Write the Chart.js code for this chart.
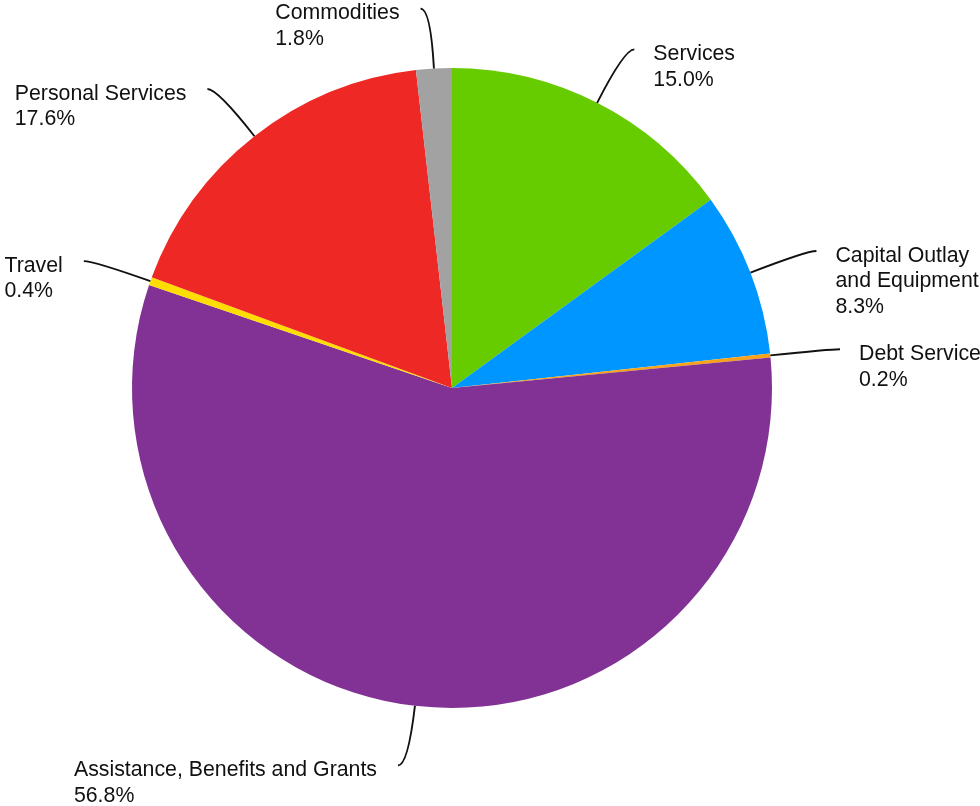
<!DOCTYPE html>
<html>
<head>
<meta charset="utf-8">
<script src="https://cdn.jsdelivr.net/npm/chart.js@4"></script>
<style>
  html, body { margin: 0; padding: 0; background: #fff; }
  canvas { display: block; }
</style>
</head>
<body>
<canvas id="budgetPie" width="980" height="806"></canvas>
<script>
// Spending categories, clockwise from 12 o'clock
const categories = [
    ['Services'],
    ['Capital Outlay', 'and Equipment'],
    ['Debt Service'],
    ['Assistance, Benefits and Grants'],
    ['Travel'],
    ['Personal Services'],
    ['Commodities']
];
const shares = [15.0, 8.3, 0.2, 56.8, 0.4, 17.6, 1.8];
const sliceColors = ['#66cc00', '#0096ff', '#f7a21b', '#813294', '#ffdd00', '#ee2925', '#a2a2a2'];

const FONT = '21.3px "Liberation Sans", Arial, sans-serif';
const LINE_H = 25.5;

// Outside labels with curved leader lines
const leaderLabels = {
    id: 'leaderLabels',
    afterDraw(chart) {
        const ctx = chart.ctx;
        const arcs = chart.getDatasetMeta(0).data;
        ctx.save();
        ctx.font = FONT;
        ctx.fillStyle = '#111';
        ctx.strokeStyle = '#111';
        ctx.lineWidth = 1.9;
        ctx.textBaseline = 'middle';
        ctx.textAlign = 'left';
        arcs.forEach((arc, i) => {
            const { x, y, startAngle, endAngle, outerRadius } = arc.getProps(['x', 'y', 'startAngle', 'endAngle', 'outerRadius'], true);
            const mid = (startAngle + endAngle) / 2;
            const cx = Math.cos(mid), cy = Math.sin(mid);
            const x0 = x + cx * outerRadius, y0 = y + cy * outerRadius;
            const x1 = x + cx * (outerRadius + 60), y1 = y + cy * (outerRadius + 60);
            const right = cx >= 0;
            const x2 = x1 + (right ? 10 : -10), y2 = y1;

            ctx.beginPath();
            ctx.moveTo(x0, y0);
            ctx.quadraticCurveTo(x1, y1, x2, y2);
            ctx.stroke();

            const lines = categories[i].concat([shares[i].toFixed(1) + '%']);
            const widest = Math.max(...lines.map(t => ctx.measureText(t).width));
            const tx = right ? x2 + 19 : x2 - 21 - widest;
            lines.forEach((t, k) => ctx.fillText(t, tx, y2 + 5 + k * LINE_H));
        });
        ctx.restore();
    }
};

new Chart(document.getElementById('budgetPie'), {
    type: 'pie',
    data: {
        labels: categories.map(c => c.join(' ')),
        datasets: [{
            data: shares,
            backgroundColor: sliceColors,
            borderWidth: 0
        }]
    },
    options: {
        responsive: false,
        animation: false,
        layout: { padding: { top: 68, bottom: 98, left: 132, right: 208 } },
        plugins: {
            legend: { display: false },
            tooltip: { enabled: false }
        }
    },
    plugins: [leaderLabels]
});
</script>
</body>
</html>
